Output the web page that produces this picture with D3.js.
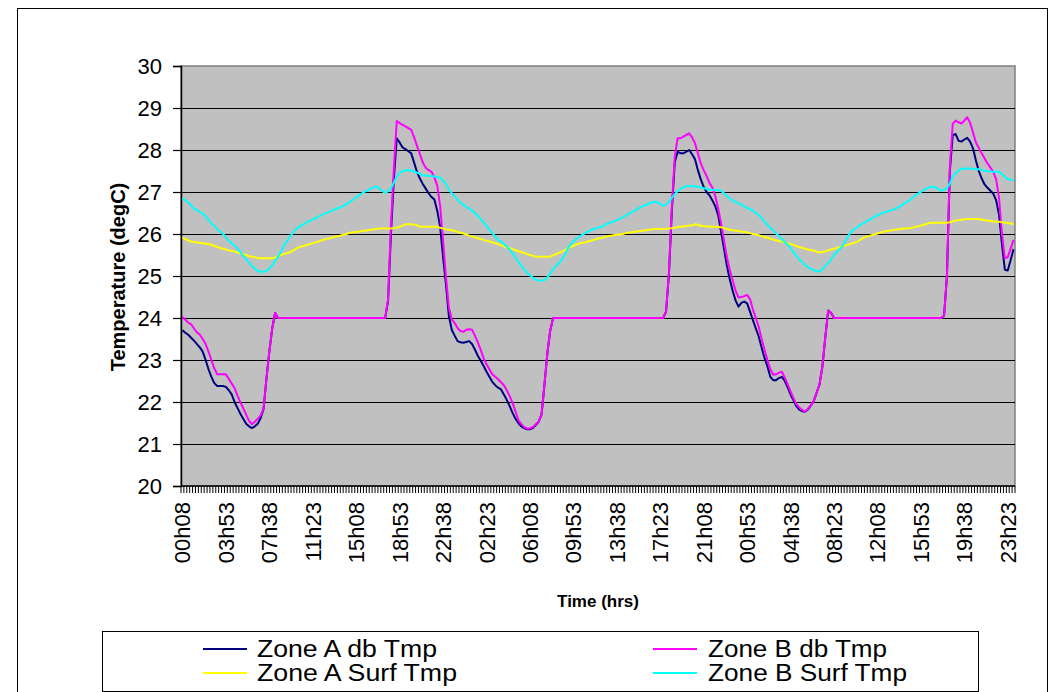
<!DOCTYPE html>
<html>
<head>
<meta charset="utf-8">
<script src="https://cdnjs.cloudflare.com/ajax/libs/d3/7.8.5/d3.min.js"></script>
<style>
  body { margin: 0; background: #fff; }
  svg { display: block; font-family: "Liberation Sans", Arial, sans-serif; }
</style>
</head>
<body>
<svg id="chart" width="1055" height="692"></svg>
<script>
// ---- data -------------------------------------------------------------
// 15-minute samples over three days, first sample at 00h08
const sampleCount = 288;

const tickLabels = ["00h08","03h53","07h38","11h23","15h08","18h53","22h38","02h23","06h08","09h53",
                    "13h38","17h23","21h08","00h53","04h38","08h23","12h08","15h53","19h38","23h23"];
const tickEvery = 15;

const seriesNames  = ["Zone A db Tmp", "Zone B db Tmp", "Zone A Surf Tmp", "Zone B Surf Tmp"];
const seriesColors = ["#000080", "#FF00FF", "#FFFF00", "#00FFFF"];

const zoneADbTmp = [
  23.71,23.65,23.60,23.53,23.46,23.38,23.30,23.20,23.00,22.78,22.60,22.45,
  22.38,22.38,22.38,22.36,22.28,22.18,22.00,21.86,21.72,21.60,21.48,21.42,
  21.38,21.42,21.48,21.62,21.83,22.55,23.20,23.75,24.12,24.00,24.00,24.00,
  24.00,24.00,24.00,24.00,24.00,24.00,24.00,24.00,24.00,24.00,24.00,24.00,
  24.00,24.00,24.00,24.00,24.00,24.00,24.00,24.00,24.00,24.00,24.00,24.00,
  24.00,24.00,24.00,24.00,24.00,24.00,24.00,24.00,24.00,24.00,24.00,24.40,
  26.00,27.30,28.28,28.18,28.06,28.02,27.97,27.92,27.70,27.48,27.32,27.19,
  27.08,26.97,26.88,26.82,26.55,26.17,25.45,24.80,24.05,23.72,23.58,23.45,
  23.42,23.41,23.43,23.45,23.38,23.25,23.10,22.98,22.86,22.72,22.60,22.48,
  22.40,22.34,22.30,22.18,22.05,21.90,21.74,21.60,21.50,21.42,21.38,21.35,
  21.35,21.38,21.45,21.53,21.70,22.40,23.15,23.70,24.00,24.00,24.00,24.00,
  24.00,24.00,24.00,24.00,24.00,24.00,24.00,24.00,24.00,24.00,24.00,24.00,
  24.00,24.00,24.00,24.00,24.00,24.00,24.00,24.00,24.00,24.00,24.00,24.00,
  24.00,24.00,24.00,24.00,24.00,24.00,24.00,24.00,24.00,24.00,24.00,24.15,
  25.05,26.55,27.70,27.96,27.92,27.92,27.96,28.00,27.90,27.78,27.52,27.30,
  27.12,27.00,26.92,26.80,26.66,26.45,26.05,25.65,25.25,24.92,24.65,24.42,
  24.27,24.36,24.39,24.35,24.15,23.95,23.75,23.56,23.30,23.05,22.85,22.60,
  22.52,22.52,22.57,22.60,22.50,22.35,22.18,22.04,21.90,21.82,21.78,21.77,
  21.82,21.92,22.02,22.22,22.42,22.85,23.55,24.18,24.12,24.00,24.00,24.00,
  24.00,24.00,24.00,24.00,24.00,24.00,24.00,24.00,24.00,24.00,24.00,24.00,
  24.00,24.00,24.00,24.00,24.00,24.00,24.00,24.00,24.00,24.00,24.00,24.00,
  24.00,24.00,24.00,24.00,24.00,24.00,24.00,24.00,24.00,24.00,24.00,24.05,
  25.00,27.50,28.35,28.38,28.22,28.20,28.25,28.29,28.20,28.04,27.75,27.50,
  27.32,27.18,27.10,27.03,26.96,26.80,26.45,25.75,25.15,25.13,25.38,25.64
];

const zoneBDbTmp = [
  24.03,23.96,23.89,23.85,23.75,23.66,23.60,23.50,23.38,23.20,23.00,22.80,
  22.66,22.66,22.66,22.66,22.55,22.44,22.33,22.15,21.99,21.85,21.70,21.55,
  21.47,21.53,21.60,21.68,21.85,22.55,23.20,23.75,24.12,24.00,24.00,24.00,
  24.00,24.00,24.00,24.00,24.00,24.00,24.00,24.00,24.00,24.00,24.00,24.00,
  24.00,24.00,24.00,24.00,24.00,24.00,24.00,24.00,24.00,24.00,24.00,24.00,
  24.00,24.00,24.00,24.00,24.00,24.00,24.00,24.00,24.00,24.00,24.00,24.45,
  26.20,27.55,28.69,28.64,28.60,28.56,28.52,28.48,28.30,28.10,27.90,27.70,
  27.58,27.52,27.48,27.35,27.15,26.65,25.85,24.98,24.25,23.97,23.88,23.76,
  23.69,23.67,23.72,23.73,23.72,23.58,23.42,23.24,23.04,22.90,22.78,22.66,
  22.60,22.54,22.47,22.40,22.28,22.14,21.98,21.78,21.57,21.48,21.40,21.37,
  21.37,21.40,21.47,21.53,21.70,22.40,23.15,23.70,24.00,24.00,24.00,24.00,
  24.00,24.00,24.00,24.00,24.00,24.00,24.00,24.00,24.00,24.00,24.00,24.00,
  24.00,24.00,24.00,24.00,24.00,24.00,24.00,24.00,24.00,24.00,24.00,24.00,
  24.00,24.00,24.00,24.00,24.00,24.00,24.00,24.00,24.00,24.00,24.00,24.15,
  25.10,26.65,27.83,28.28,28.28,28.32,28.36,28.40,28.30,28.16,27.92,27.68,
  27.52,27.38,27.22,27.10,26.90,26.60,26.25,25.85,25.45,25.15,24.90,24.65,
  24.49,24.50,24.52,24.55,24.45,24.20,24.00,23.79,23.50,23.25,23.00,22.78,
  22.65,22.66,22.70,22.72,22.58,22.42,22.25,22.09,21.95,21.87,21.81,21.77,
  21.84,21.92,22.02,22.22,22.42,22.85,23.55,24.18,24.12,24.00,24.00,24.00,
  24.00,24.00,24.00,24.00,24.00,24.00,24.00,24.00,24.00,24.00,24.00,24.00,
  24.00,24.00,24.00,24.00,24.00,24.00,24.00,24.00,24.00,24.00,24.00,24.00,
  24.00,24.00,24.00,24.00,24.00,24.00,24.00,24.00,24.00,24.00,24.00,24.05,
  25.00,27.60,28.62,28.70,28.66,28.63,28.70,28.78,28.65,28.42,28.18,28.05,
  27.92,27.80,27.68,27.58,27.48,27.30,26.85,26.00,25.42,25.45,25.65,25.86
];

const zoneASurfTmp = [
  25.91,25.88,25.85,25.82,25.81,25.80,25.79,25.78,25.77,25.76,25.74,25.72,
  25.69,25.67,25.65,25.63,25.61,25.60,25.58,25.56,25.54,25.52,25.50,25.47,
  25.46,25.45,25.43,25.42,25.42,25.42,25.42,25.42,25.44,25.47,25.50,25.52,
  25.54,25.56,25.60,25.64,25.68,25.70,25.72,25.74,25.76,25.78,25.80,25.82,
  25.85,25.87,25.89,25.90,25.92,25.94,25.95,25.97,25.99,26.01,26.03,26.04,
  26.05,26.06,26.07,26.08,26.09,26.10,26.11,26.12,26.13,26.13,26.13,26.13,
  26.13,26.14,26.15,26.17,26.20,26.23,26.23,26.23,26.22,26.21,26.17,26.17,
  26.17,26.17,26.17,26.17,26.17,26.15,26.13,26.11,26.10,26.09,26.07,26.05,
  26.03,26.01,25.99,25.96,25.94,25.92,25.90,25.88,25.86,25.84,25.82,25.80,
  25.78,25.76,25.73,25.71,25.68,25.66,25.64,25.62,25.59,25.57,25.55,25.52,
  25.50,25.48,25.46,25.46,25.46,25.46,25.46,25.46,25.49,25.52,25.55,25.58,
  25.61,25.65,25.69,25.72,25.75,25.77,25.79,25.80,25.82,25.84,25.86,25.88,
  25.90,25.91,25.93,25.95,25.96,25.97,25.98,25.99,26.00,26.02,26.03,26.04,
  26.05,26.06,26.07,26.08,26.09,26.10,26.11,26.12,26.12,26.12,26.12,26.12,
  26.13,26.14,26.15,26.17,26.17,26.18,26.19,26.20,26.20,26.23,26.22,26.19,
  26.19,26.18,26.18,26.17,26.17,26.17,26.16,26.14,26.12,26.10,26.09,26.08,
  26.07,26.06,26.05,26.04,26.02,26.00,25.99,25.97,25.95,25.93,25.91,25.89,
  25.87,25.85,25.83,25.82,25.80,25.78,25.76,25.74,25.71,25.69,25.67,25.65,
  25.63,25.62,25.60,25.58,25.56,25.57,25.59,25.61,25.63,25.65,25.67,25.69,
  25.71,25.73,25.75,25.77,25.79,25.82,25.86,25.90,25.93,25.95,25.97,25.99,
  26.01,26.03,26.05,26.07,26.08,26.09,26.10,26.11,26.12,26.13,26.13,26.14,
  26.15,26.17,26.18,26.20,26.22,26.24,26.26,26.27,26.27,26.27,26.27,26.27,
  26.27,26.28,26.30,26.32,26.33,26.34,26.35,26.36,26.36,26.36,26.36,26.36,
  26.34,26.33,26.32,26.31,26.30,26.30,26.29,26.28,26.27,26.26,26.25,26.24
];

const zoneBSurfTmp = [
  26.85,26.80,26.75,26.68,26.60,26.57,26.53,26.48,26.42,26.34,26.25,26.20,
  26.12,26.06,26.00,25.92,25.84,25.78,25.72,25.66,25.57,25.48,25.40,25.32,
  25.24,25.18,25.12,25.10,25.10,25.12,25.18,25.26,25.36,25.46,25.58,25.72,
  25.82,25.92,26.02,26.10,26.16,26.20,26.24,26.28,26.32,26.35,26.38,26.42,
  26.45,26.48,26.51,26.54,26.57,26.60,26.62,26.65,26.69,26.73,26.77,26.82,
  26.87,26.92,26.97,27.01,27.04,27.08,27.11,27.13,27.08,27.02,26.98,27.02,
  27.09,27.22,27.37,27.45,27.50,27.52,27.52,27.51,27.49,27.46,27.43,27.40,
  27.39,27.38,27.38,27.37,27.36,27.34,27.28,27.18,27.07,26.97,26.90,26.82,
  26.74,26.70,26.65,26.60,26.56,26.50,26.43,26.36,26.28,26.20,26.11,26.02,
  25.94,25.86,25.82,25.76,25.70,25.63,25.54,25.44,25.34,25.24,25.16,25.08,
  25.02,24.96,24.91,24.89,24.89,24.90,24.96,25.06,25.16,25.24,25.31,25.38,
  25.50,25.64,25.75,25.82,25.88,25.93,25.98,26.02,26.06,26.09,26.12,26.14,
  26.16,26.18,26.22,26.25,26.28,26.30,26.33,26.36,26.40,26.44,26.48,26.52,
  26.55,26.59,26.63,26.66,26.69,26.72,26.75,26.77,26.76,26.71,26.67,26.70,
  26.76,26.86,26.95,27.02,27.07,27.11,27.14,27.14,27.14,27.13,27.13,27.11,
  27.09,27.07,27.06,27.05,27.05,27.05,27.03,26.97,26.90,26.85,26.80,26.76,
  26.73,26.70,26.66,26.62,26.59,26.55,26.50,26.45,26.38,26.30,26.22,26.15,
  26.08,26.01,25.95,25.88,25.81,25.75,25.66,25.57,25.48,25.40,25.33,25.26,
  25.21,25.17,25.14,25.12,25.10,25.16,25.24,25.31,25.40,25.50,25.57,25.64,
  25.72,25.84,25.96,26.06,26.11,26.16,26.21,26.25,26.29,26.33,26.37,26.41,
  26.45,26.48,26.51,26.53,26.55,26.57,26.60,26.63,26.67,26.71,26.76,26.80,
  26.86,26.91,26.96,27.00,27.05,27.08,27.11,27.13,27.11,27.07,27.03,27.05,
  27.09,27.20,27.36,27.45,27.51,27.55,27.56,27.56,27.56,27.55,27.55,27.54,
  27.52,27.50,27.50,27.49,27.48,27.48,27.48,27.43,27.36,27.31,27.29,27.27
];

const seriesValues = [zoneADbTmp, zoneBDbTmp, zoneASurfTmp, zoneBSurfTmp];
const yTicks = [20, 21, 22, 23, 24, 25, 26, 27, 28, 29, 30];

// ---- layout -----------------------------------------------------------
const W = 1055, H = 692;
const plot = { left: 181, right: 1015, top: 66, bottom: 486 };

const svg = d3.select("#chart");
svg.append("rect").attr("width", W).attr("height", H).attr("fill", "#fff");

// chart frame
svg.append("rect")
  .attr("x", 17.5).attr("y", 8.5).attr("width", 1030).attr("height", 700)
  .attr("fill", "none").attr("stroke", "#000").attr("stroke-width", 1);

const sampleIndex = d3.range(sampleCount);
const x = d3.scaleBand().domain(sampleIndex).range([plot.left, plot.right]).paddingInner(0).paddingOuter(0);
const xc = i => x(i) + x.bandwidth() / 2;
const y = d3.scaleLinear().domain([20, 30]).range([plot.bottom, plot.top]);

// plot area
svg.append("rect")
  .attr("x", plot.left).attr("y", plot.top)
  .attr("width", plot.right - plot.left).attr("height", plot.bottom - plot.top)
  .attr("fill", "#C0C0C0").attr("stroke", "#808080").attr("stroke-width", 1.5);

// horizontal gridlines
svg.append("g").selectAll("line").data(yTicks.slice(1, -1)).join("line")
  .attr("x1", plot.left).attr("x2", plot.right)
  .attr("y1", d => Math.round(y(d)) + 0.5).attr("y2", d => Math.round(y(d)) + 0.5)
  .attr("stroke", "#000").attr("stroke-width", 1);

// y axis
const yAxis = svg.append("g").attr("transform", `translate(${plot.left},0)`)
  .call(d3.axisLeft(y).tickValues(yTicks).tickSize(8).tickPadding(11).tickFormat(d3.format("d")));
yAxis.select(".domain").attr("stroke", "#000").attr("stroke-width", 1.5);
yAxis.selectAll(".tick line").attr("stroke", "#000").attr("stroke-width", 1.2);
yAxis.selectAll(".tick text").attr("font-size", 22).attr("fill", "#000")
  .attr("font-family", "'Liberation Sans', Arial, sans-serif");

// x axis: one tick per sample boundary, labels every 15 samples
const xAxisG = svg.append("g");
xAxisG.append("g").selectAll("line").data(d3.range(sampleCount + 1)).join("line")
  .attr("x1", d => plot.left + d * x.bandwidth()).attr("x2", d => plot.left + d * x.bandwidth())
  .attr("y1", plot.bottom).attr("y2", plot.bottom + 7)
  .attr("stroke", "#000").attr("stroke-width", 1);
xAxisG.append("line")
  .attr("x1", plot.left).attr("x2", plot.right)
  .attr("y1", plot.bottom).attr("y2", plot.bottom)
  .attr("stroke", "#000").attr("stroke-width", 1.5);

const labelIdx = d3.range(0, sampleCount, tickEvery);
xAxisG.append("g").selectAll("text").data(labelIdx).join("text")
  .attr("transform", d => `translate(${xc(d) + 8},${plot.bottom + 16}) rotate(-90)`)
  .attr("text-anchor", "end")
  .attr("font-size", 22)
  .attr("fill", "#000")
  .text((d, i) => tickLabels[i]);

// axis titles
svg.append("text")
  .attr("transform", `translate(${125},${277}) rotate(-90)`)
  .attr("text-anchor", "middle")
  .attr("font-size", 20).attr("font-weight", "bold")
  .text("Temperature (degC)");
svg.append("text")
  .attr("x", 598).attr("y", 607)
  .attr("text-anchor", "middle")
  .attr("font-size", 17).attr("font-weight", "bold")
  .text("Time (hrs)");

// series lines
const line = d3.line().x((d, i) => xc(i)).y(d => y(d));
svg.append("g").selectAll("path").data(seriesValues).join("path")
  .attr("d", d => line(d))
  .attr("fill", "none")
  .attr("stroke", (d, i) => seriesColors[i])
  .attr("stroke-width", 2)
  .attr("stroke-linejoin", "round");

// legend
const legend = svg.append("g");
legend.append("rect")
  .attr("x", 102.5).attr("y", 631.5).attr("width", 876).attr("height", 60)
  .attr("fill", "#fff").attr("stroke", "#000").attr("stroke-width", 1);

const legendPos = [
  { lx: 203, tx: 257, y: 649, w: 180 },
  { lx: 653, tx: 708, y: 649, w: 179 },
  { lx: 203, tx: 257, y: 673, w: 200 },
  { lx: 653, tx: 708, y: 673, w: 199 }
];
const items = legend.selectAll("g.item").data(seriesNames).join("g").attr("class", "item");
items.append("line")
  .attr("x1", (d, i) => legendPos[i].lx).attr("x2", (d, i) => legendPos[i].lx + 44)
  .attr("y1", (d, i) => legendPos[i].y).attr("y2", (d, i) => legendPos[i].y)
  .attr("stroke", (d, i) => seriesColors[i]).attr("stroke-width", 2);
items.append("text")
  .attr("x", (d, i) => legendPos[i].tx).attr("y", (d, i) => legendPos[i].y + 8)
  .attr("font-size", 23)
  .attr("textLength", (d, i) => legendPos[i].w)
  .attr("lengthAdjust", "spacingAndGlyphs")
  .text(d => d);
</script>
</body>
</html>
